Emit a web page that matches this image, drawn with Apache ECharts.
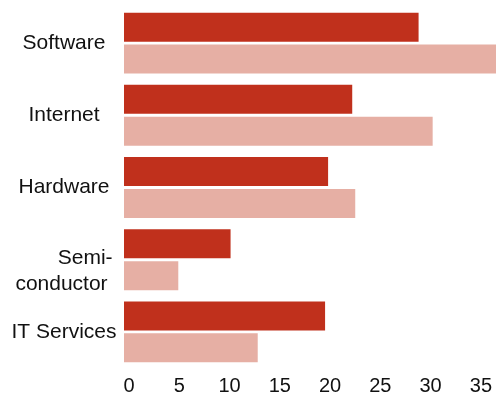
<!DOCTYPE html>
<html>
<head>
<meta charset="utf-8">
<script src="https://cdn.jsdelivr.net/npm/echarts@6/dist/echarts.min.js"></script>
<style>
  html, body { margin: 0; padding: 0; background: #fff; }
  #chart { width: 496px; height: 396px; }
</style>
</head>
<body>
<div id="chart"></div>
<script>
// Sector categories, top to bottom
const categories = ['Software', 'Internet', 'Hardware', 'Semiconductor', 'IT Services'];
// Two series per sector
const seriesDark = [29.3, 22.7, 20.3, 10.6, 20.0];
const seriesLight = [37.0, 30.7, 23.0, 5.4, 13.3];
// Value-axis tick labels
const tickValues = [0, 5, 10, 15, 20, 25, 30, 35];

const chart = echarts.init(document.getElementById('chart'), null, { renderer: 'canvas' });

const FONT = '"Liberation Sans", Arial, Helvetica, sans-serif';
const textStyle = { fontFamily: FONT, fontSize: 21, color: '#111', lineHeight: 26 };

chart.setOption({
  animation: false,
  backgroundColor: '#ffffff',
  grid: { left: 124, right: 0, top: 7, bottom: 28, containLabel: false },
  xAxis: {
    type: 'value',
    min: 0,
    max: 37,
    interval: 5,
    axisLine: { show: false },
    axisTick: { show: false },
    splitLine: { show: false },
    axisLabel: {
      show: true,
      color: '#111',
      fontFamily: FONT,
      fontSize: 20,
      margin: 8,
      padding: [0, 0, 0, 10],
      showMaxLabel: false,
      formatter: v => (tickValues.indexOf(v) >= 0 ? String(v) : '')
    }
  },
  yAxis: {
    type: 'category',
    data: categories,
    inverse: true,
    axisLine: { show: false },
    axisTick: { show: false },
    splitLine: { show: false },
    axisLabel: Object.assign({}, textStyle, {
      margin: 60,
      align: 'center',
      formatter: v => (v === 'Semiconductor'
        ? '{s| }\n{r|Semi-}\n{l|conductor}'
        : '{c|' + v + '}'),
      rich: {
        s: Object.assign({}, textStyle, { lineHeight: 24 }),
        r: Object.assign({}, textStyle, { align: 'right' }),
        l: Object.assign({}, textStyle, { align: 'left', padding: [0, 5, 0, 0] }),
        c: Object.assign({}, textStyle, { align: 'center' })
      }
    })
  },
  series: [
    {
      type: 'bar',
      data: seriesDark,
      barWidth: 29,
      barGap: '10%',
      itemStyle: { color: '#c0301c' }
    },
    {
      type: 'bar',
      data: seriesLight,
      barWidth: 29,
      barGap: '10%',
      itemStyle: { color: '#e6afa4' }
    }
  ]
});
</script>
</body>
</html>
